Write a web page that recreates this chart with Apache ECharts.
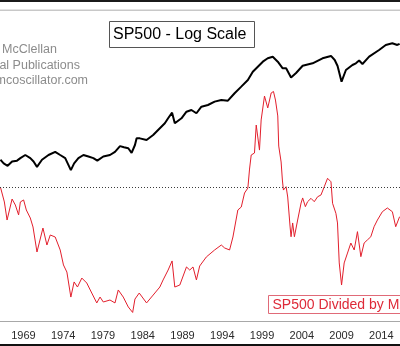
<!DOCTYPE html>
<html>
<head>
<meta charset="utf-8">
<style>
html,body{margin:0;padding:0;background:#fff;}
#chart{width:400px;height:346px;}
</style>
<script src="https://cdn.jsdelivr.net/npm/echarts@6/dist/echarts.min.js"></script>
</head>
<body>
<div id="chart"></div>
<script>
// Tick labels on the time axis
const tickYears = [1969, 1974, 1979, 1984, 1989, 1994, 1999, 2004, 2009, 2014];

// SP500 (log scale)
const spYears = [1966.10,1966.51,1967.01,1967.57,1968.19,1968.61,1969.23,1969.86,1970.27,1970.70,
  1971.33,1972.15,1972.99,1973.62,1974.25,1974.96,1975.37,1975.91,1976.54,1977.17,
  1977.79,1978.29,1979.04,1979.88,1980.51,1981.14,1981.64,1982.18,1982.60,1983.02,
  1983.23,1983.64,1984.48,1985.31,1986.15,1986.78,1987.19,1987.69,1988.03,1988.87,
  1989.50,1990.12,1990.75,1991.38,1992.20,1993.04,1993.88,1994.71,1995.55,1996.39,
  1997.22,1997.84,1998.47,1999.10,1999.72,2000.35,2000.98,2001.60,2002.03,2002.65,
  2003.28,2004.11,2005.36,2006.61,2007.67,2008.14,2008.50,2009.00,2009.55,2010.37,
  2010.80,2011.21,2011.63,2012.47,2013.72,2014.56,2015.38,2016.01,2016.30];
const spValues = [83,75,70,79,81,87,95,87,79,68,
  83,95,104,95,87,62,75,87,95,91,
  87,81,91,95,104,122,118,115,101,126,
  152,152,145,167,202,233,268,314,233,268,
  323,339,309,372,390,429,450,441,543,655,
  791,1000,1152,1326,1460,1527,1326,1100,1100,848,
  964,1181,1268,1460,1560,1391,1174,754,1049,1208,
  1268,1372,1243,1527,1845,2126,2231,2126,2200];

// SP500 divided by M (ratio, 1.0 = dotted reference line)
const ratioYears = [1966.10,1966.31,1966.60,1966.94,1967.57,1967.98,1968.39,1968.61,1969.02,1969.36,
  1969.86,1970.20,1970.70,1971.45,1971.95,1972.37,1972.99,1973.62,1974.03,1974.46,
  1974.96,1975.37,1975.79,1976.34,1976.96,1977.59,1978.22,1978.63,1979.04,1979.88,
  1980.51,1980.92,1981.55,1982.18,1982.73,1983.02,1983.56,1984.48,1985.31,1986.15,
  1986.56,1987.19,1987.69,1988.03,1988.66,1989.50,1989.91,1990.32,1990.75,1991.16,
  1992.00,1993.04,1993.88,1994.30,1994.92,1995.34,1995.96,1996.39,1996.80,1997.22,
  1997.43,1997.64,1998.05,1998.27,1998.68,1998.89,1999.31,1999.72,2000.15,2000.44,
  2000.69,2000.98,2001.10,2001.40,2001.56,2001.69,2002.03,2002.23,2002.53,2002.65,
  2002.85,2003.07,2003.48,2003.91,2004.11,2004.45,2004.73,2005.16,2005.57,2005.99,
  2006.41,2006.83,2007.24,2007.67,2007.87,2008.29,2008.49,2008.71,2009.00,2009.33,
  2009.75,2010.17,2010.59,2011.00,2011.43,2011.84,2012.25,2012.68,2013.09,2013.51,
  2014.13,2014.76,2015.39,2015.81,2016.30];
const ratioValues = [1.002,0.992,0.890,0.755,0.912,0.867,0.793,0.890,0.905,0.830,
  0.770,0.703,0.516,0.695,0.568,0.643,0.628,0.531,0.419,0.366,
  0.179,0.292,0.254,0.321,0.284,0.209,0.135,0.179,0.142,0.157,
  0.135,0.232,0.179,0.105,0.064,0.164,0.209,0.135,0.194,0.254,
  0.307,0.381,0.449,0.254,0.269,0.404,0.381,0.404,0.307,0.411,
  0.479,0.531,0.568,0.546,0.531,0.628,0.830,0.852,0.957,0.994,
  1.136,1.241,1.256,1.465,1.278,1.503,1.682,1.593,1.705,1.716,
  1.652,1.533,1.308,1.189,1.054,0.979,1.004,0.927,0.703,0.630,
  0.733,0.630,0.755,0.882,0.920,0.855,0.892,0.917,0.892,0.929,
  0.942,1.004,1.067,1.041,0.880,0.805,0.733,0.434,0.269,0.434,
  0.508,0.583,0.531,0.668,0.481,0.583,0.606,0.630,0.705,0.755,
  0.817,0.845,0.817,0.705,0.780];

const referenceLevel = 1.0;

const chart = echarts.init(document.getElementById('chart'), null, {renderer: 'canvas'});
chart.setOption({
  animation: false,
  backgroundColor: '#ffffff',
  grid: {left: 0, right: 0, top: 0, bottom: 25, containLabel: false},
  xAxis: {
    type: 'value', min: 1966.05, max: 2016.35,
    axisLine: {show: true, lineStyle: {color: '#a8a8a8', width: 1}},
    axisTick: {show: false},
    splitLine: {show: false},
    axisLabel: {
      customValues: tickYears,
      margin: 9,
      color: '#2a2a2a',
      fontFamily: '"Liberation Sans", Arial, sans-serif',
      fontSize: 11,
      formatter: v => String(Math.round(v))
    }
  },
  yAxis: [
    {type: 'log', min: 0.873, max: 7577, show: false},
    {type: 'value', min: 0, max: 2.4, show: false}
  ],
  series: [
    {
      type: 'line', yAxisIndex: 0, symbol: 'none',
      lineStyle: {color: '#000000', width: 2},
      data: spYears.map((y, i) => [y, spValues[i]]),
      z: 3
    },
    {
      type: 'line', yAxisIndex: 1, symbol: 'none',
      lineStyle: {color: '#e21f2c', width: 1},
      data: ratioYears.map((y, i) => [y, ratioValues[i]]),
      z: 2,
      markLine: {
        silent: true, symbol: ['none', 'none'], label: {show: false},
        lineStyle: {color: '#3a3a3a', width: 1, type: [1, 2]},
        data: [{yAxis: referenceLevel}]
      }
    }
  ],
  graphic: [
    {type: 'rect', shape: {x: 0, y: 0, width: 400, height: 2}, style: {fill: '#1a1a1a'}, z: 10},
    {type: 'rect', shape: {x: 0, y: 9.5, width: 400, height: 1.5}, style: {fill: '#c8c8c8'}, z: 10},
    {type: 'rect', shape: {x: 0, y: 344, width: 400, height: 2}, style: {fill: '#111111'}, z: 10},
    {type: 'rect', shape: {x: 109.5, y: 21.5, width: 145, height: 26}, style: {fill: '#ffffff', stroke: '#555555', lineWidth: 1}, z: 10},
    {type: 'text', x: 113, y: 35, style: {text: 'SP500 - Log Scale', fill: '#000000', font: '16px "Liberation Sans", Arial, sans-serif', textVerticalAlign: 'middle', verticalAlign: 'middle'}, z: 11},
    {type: 'text', x: 57, y: 50, style: {text: 'McClellan', fill: '#8c8c8c', font: '12.5px "Liberation Sans", Arial, sans-serif', align: 'right', verticalAlign: 'middle'}, z: 11},
    {type: 'text', x: 80, y: 65.5, style: {text: 'Financial Publications', fill: '#8c8c8c', font: '12.5px "Liberation Sans", Arial, sans-serif', align: 'right', verticalAlign: 'middle'}, z: 11},
    {type: 'text', x: 88, y: 81, style: {text: 'www.mcoscillator.com', fill: '#8c8c8c', font: '12.5px "Liberation Sans", Arial, sans-serif', align: 'right', verticalAlign: 'middle'}, z: 11},
    {type: 'rect', shape: {x: 268.5, y: 295.5, width: 140, height: 18}, style: {fill: '#ffffff', stroke: '#e06a78', lineWidth: 1}, z: 10},
    {type: 'text', x: 272.5, y: 305, style: {text: 'SP500 Divided by M2', fill: '#de2a38', font: '14px "Liberation Sans", Arial, sans-serif', verticalAlign: 'middle'}, z: 11}
  ]
});
</script>
</body>
</html>
